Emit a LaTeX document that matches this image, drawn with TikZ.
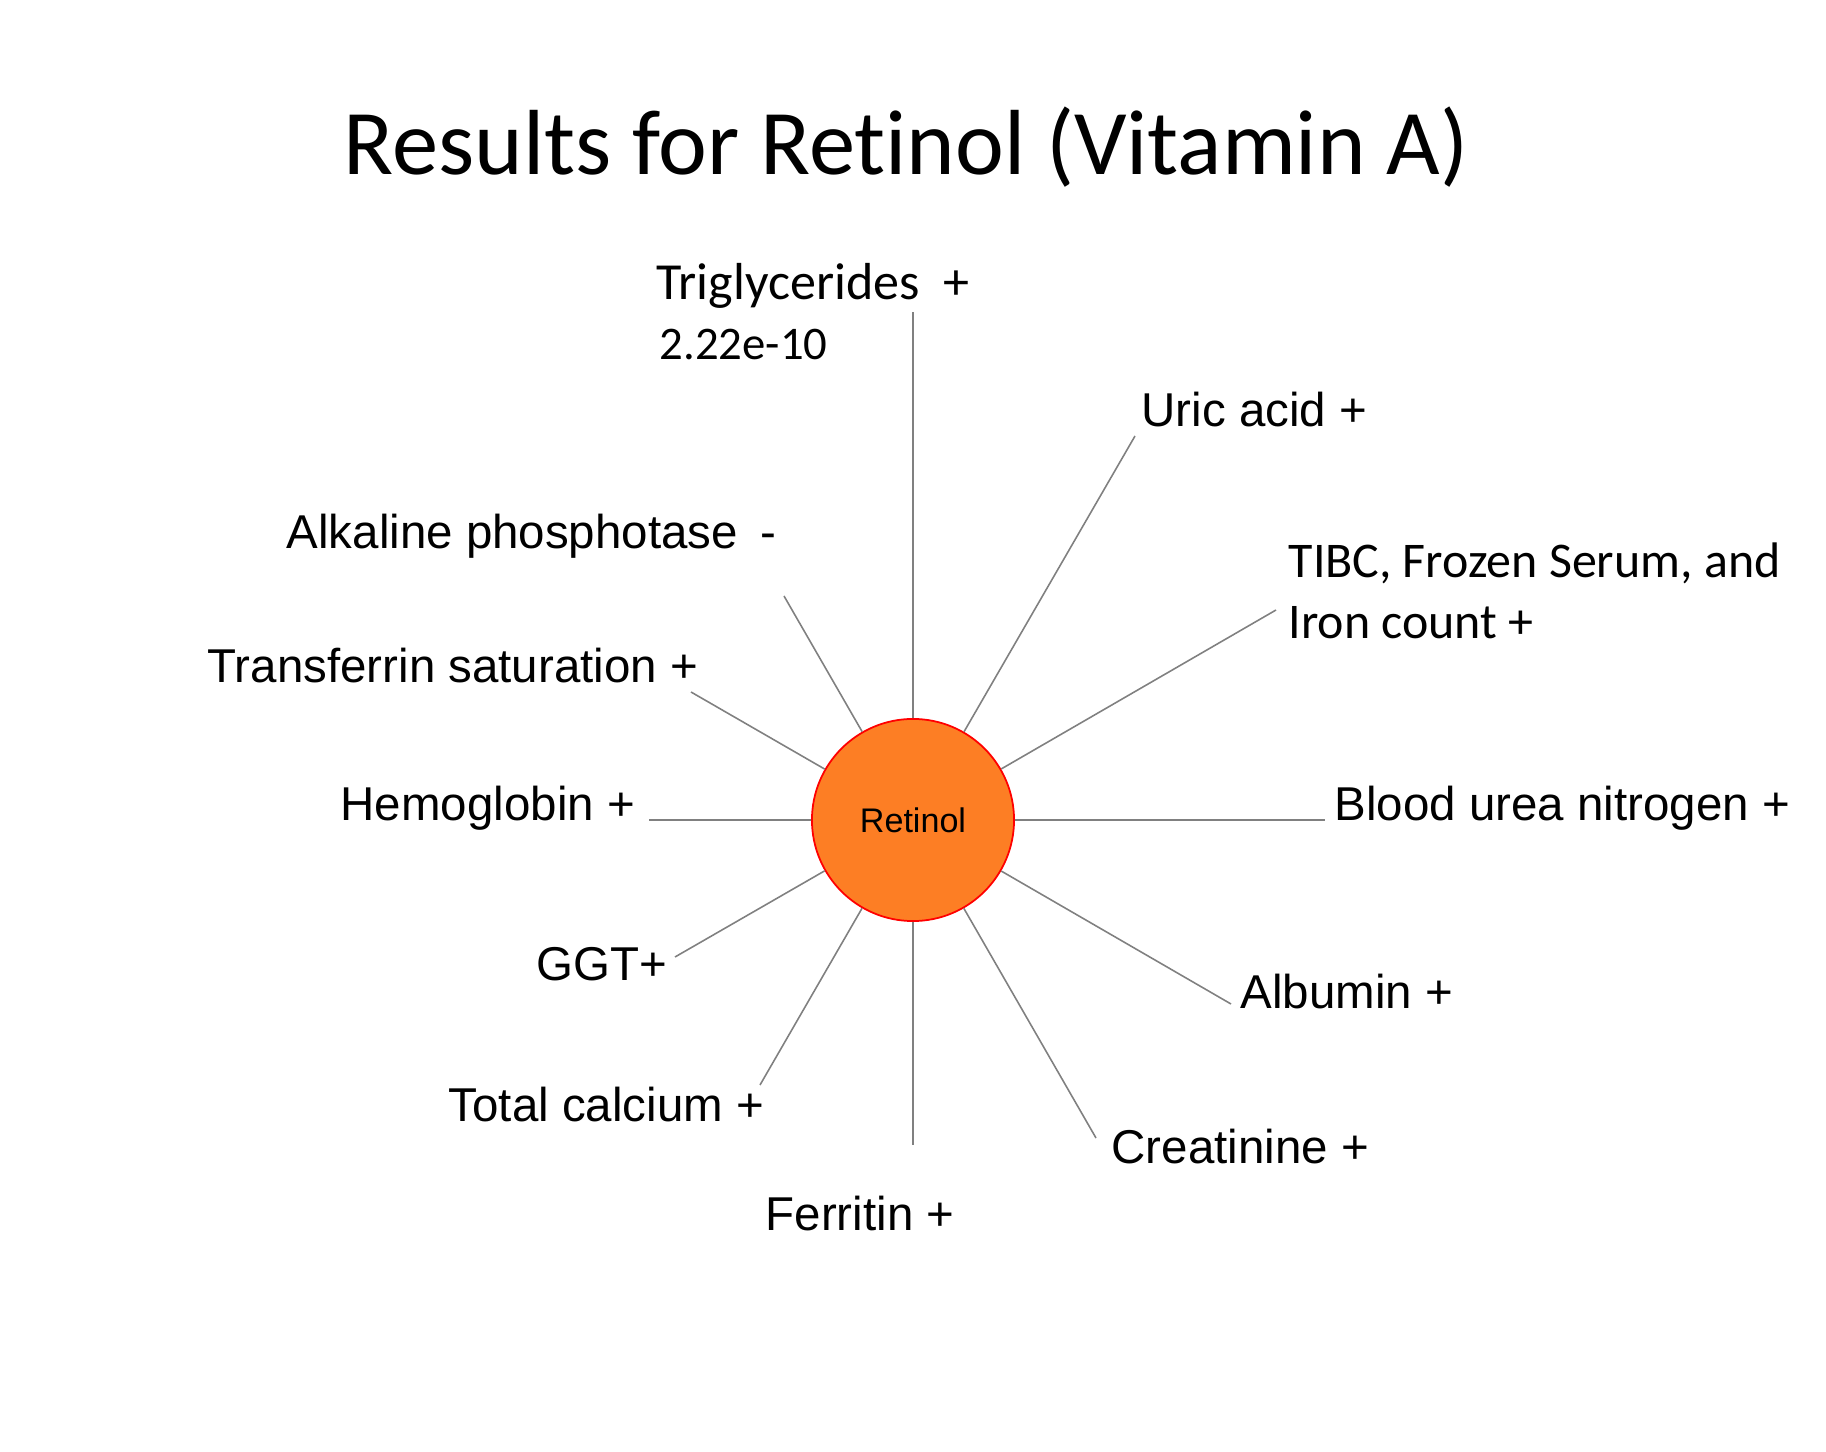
\documentclass[tikz,border=0pt]{standalone}
\usepackage{fontspec}
\setmainfont{Liberation Sans}
\newfontfamily\calibrifont[Ligatures=NoCommon]{Carlito}
\usepackage{xcolor}
\usetikzlibrary{positioning}

\definecolor{retorange}{RGB}{253,126,36}
\definecolor{spokegray}{RGB}{128,128,128}

\begin{document}
\begin{tikzpicture}[x=0.01cm, y=-0.01cm,
    hub/.style={circle, draw=red, fill=retorange, line width=0.5pt, minimum size=2.02cm, inner sep=0pt, font=\fontsize{9.7}{11}\selectfont},
    testname/.style={anchor=base west, inner sep=0pt, font=\fontsize{13.5}{16}\selectfont},
    testnamec/.style={anchor=base west, inner sep=0pt, font=\calibrifont\fontsize{14.2}{17}\selectfont},
    spoke/.style={draw=spokegray, line width=0.45pt}]

    \useasboundingbox (0,0) rectangle (1826,1452);

    % title
    \node [anchor=base west, inner sep=0pt, font=\calibrifont\fontsize{26.3}{30}\selectfont] (title) at (343,175) {Results for Retinol (Vitamin A)};

    \node [hub] (retinol) at (913,820) {Retinol};

    % ends of the spokes
    \coordinate (trig-end) at (913,312);
    \coordinate (uric-end) at (1135,436);
    \coordinate (tibc-end) at (1276,610);
    \coordinate (bun-end) at (1325,820);
    \coordinate (alb-end) at (1231,1004);
    \coordinate (creat-end) at (1096,1138);
    \coordinate (ferr-end) at (913,1145);
    \coordinate (calc-end) at (760,1085);
    \coordinate (ggt-end) at (675,957);
    \coordinate (hemo-end) at (649,820);
    \coordinate (trans-end) at (691,692);
    \coordinate (alk-end) at (784,596);

    % test names
    \node [testnamec, font=\calibrifont\fontsize{14.8}{17}\selectfont] (trig) at (656,300) {Triglycerides\ \ +};
    \node [testnamec, font=\calibrifont\fontsize{13.3}{16}\selectfont] (trigp) at (659,360) {2.22e-10};
    \node [testname] (uric) at (1141,427) {Uric acid +};
    \node [testnamec] (tibc) at (1288,578) {TIBC, Frozen Serum, and};
    \node [testnamec] (iron) at (1288,639) {Iron count +};
    \node [testname] (bun) at (1334,821) {Blood urea nitrogen +};
    \node [testname] (alb) at (1240,1009) {Albumin +};
    \node [testname] (creat) at (1111,1163) {Creatinine +};
    \node [testname] (ferr) at (765,1230) {Ferritin +};
    \node [testname] (calc) at (448,1121) {Total calcium +};
    \node [testname] (ggt) at (536,981) {GGT+};
    \node [testname] (hemo) at (340,821) {Hemoglobin +};
    \node [testname] (trans) at (207,683) {Transferrin saturation +};
    \node [testname] (alk) at (286,549) {Alkaline phosphotase\hspace{0.2em} -};

    \path [spoke] (retinol) -- (trig-end);
    \path [spoke] (retinol) -- (uric-end);
    \path [spoke] (retinol) -- (tibc-end);
    \path [spoke] (retinol) -- (bun-end);
    \path [spoke] (retinol) -- (alb-end);
    \path [spoke] (retinol) -- (creat-end);
    \path [spoke] (retinol) -- (ferr-end);
    \path [spoke] (retinol) -- (calc-end);
    \path [spoke] (retinol) -- (ggt-end);
    \path [spoke] (retinol) -- (hemo-end);
    \path [spoke] (retinol) -- (trans-end);
    \path [spoke] (retinol) -- (alk-end);
\end{tikzpicture}
\end{document}
